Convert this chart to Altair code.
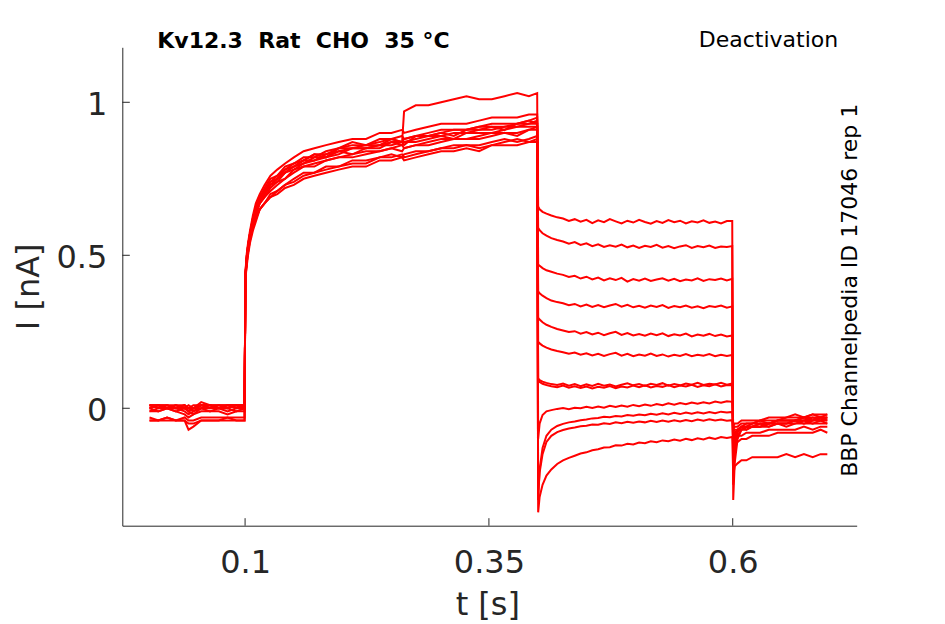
import altair as alt
import pandas as pd

# ---------------- data ----------------
T_BASE = [0.002, 0.011, 0.020, 0.029, 0.038, 0.042, 0.047, 0.055, 0.064, 0.073, 0.082, 0.091, 0.0995]
T_ACT = [0.1003, 0.1015, 0.103, 0.105, 0.108, 0.111, 0.115, 0.120, 0.126, 0.133, 0.141, 0.150,
         0.160, 0.171, 0.183, 0.196, 0.210, 0.224, 0.238, 0.250, 0.261, 0.263, 0.275, 0.288,
         0.301, 0.314, 0.327, 0.340, 0.353, 0.366, 0.379, 0.391, 0.3995]
T_DEACT = [0.4005, 0.402, 0.405, 0.409, 0.414, 0.420, 0.426, 0.432, 0.438, 0.444, 0.450, 0.456,
           0.462, 0.468, 0.474, 0.480, 0.486, 0.492, 0.498, 0.504, 0.510, 0.516, 0.522, 0.528,
           0.534, 0.540, 0.546, 0.552, 0.558, 0.564, 0.570, 0.576, 0.582, 0.588, 0.594, 0.5995]
T_TAIL = [0.6005, 0.602, 0.605, 0.609, 0.614, 0.620, 0.628, 0.637, 0.646, 0.655, 0.664,
          0.673, 0.682, 0.690, 0.697]

I_BASE = [
    [0.01, 0.00, 0.01, 0.01, 0.00, 0.00, 0.01, 0.01, 0.01, 0.00, 0.01, 0.01, 0.01],
    [0.00, 0.01, 0.00, 0.00, 0.01, -0.01, 0.00, 0.01, 0.00, 0.01, 0.00, 0.01, 0.00],
    [0.01, 0.01, 0.00, 0.01, 0.01, 0.00, -0.01, 0.01, 0.01, 0.01, 0.01, 0.00, 0.01],
    [-0.01, 0.00, 0.00, -0.01, 0.00, -0.01, -0.02, 0.00, 0.00, 0.00, -0.01, 0.00, 0.00],
    [0.01, 0.01, 0.01, 0.00, 0.01, 0.00, 0.00, 0.02, 0.01, 0.01, 0.01, 0.01, 0.01],
    [0.00, -0.01, 0.00, 0.00, -0.01, -0.02, -0.01, 0.00, -0.01, 0.00, 0.00, -0.01, 0.00],
    [0.01, 0.01, 0.00, 0.01, 0.00, 0.01, 0.00, 0.01, 0.01, 0.00, 0.01, 0.01, 0.01],
    [-0.01, -0.01, 0.00, -0.01, -0.02, -0.03, -0.02, -0.01, -0.01, -0.01, -0.02, -0.01, -0.01],
    [0.00, 0.01, 0.01, 0.00, 0.00, -0.01, 0.00, 0.00, 0.01, 0.00, 0.00, 0.01, 0.00],
    [-0.03, -0.04, -0.03, -0.04, -0.03, -0.04, -0.04, -0.03, -0.03, -0.03, -0.03, -0.03, -0.03],
    [-0.04, -0.04, -0.03, -0.04, -0.04, -0.07, -0.06, -0.04, -0.04, -0.04, -0.03, -0.04, -0.04],
    [-0.04, -0.04, -0.04, -0.04, -0.04, -0.05, -0.05, -0.04, -0.04, -0.04, -0.04, -0.04, -0.04],
]

I_ACT = [
    [0.43, 0.49, 0.53, 0.57, 0.62, 0.65, 0.69, 0.71, 0.74, 0.75, 0.78, 0.79, 0.81, 0.83, 0.82, 0.85, 0.85,
     0.86, 0.86, 0.88, 0.87, 0.86, 0.89, 0.89, 0.90, 0.89, 0.91, 0.91, 0.92, 0.91, 0.93, 0.93, 0.94],
    [0.42, 0.47, 0.51, 0.55, 0.59, 0.62, 0.65, 0.67, 0.70, 0.71, 0.73, 0.74, 0.76, 0.77, 0.78, 0.79, 0.80,
     0.80, 0.82, 0.82, 0.83, 0.82, 0.83, 0.84, 0.85, 0.85, 0.86, 0.85, 0.86, 0.87, 0.88, 0.87, 0.88],
    [0.44, 0.49, 0.53, 0.57, 0.62, 0.66, 0.69, 0.72, 0.75, 0.76, 0.79, 0.80, 0.82, 0.82, 0.84, 0.85, 0.87,
     0.86, 0.88, 0.88, 0.89, 0.88, 0.89, 0.90, 0.91, 0.91, 0.91, 0.92, 0.93, 0.93, 0.93, 0.94, 0.95],
    [0.43, 0.48, 0.52, 0.56, 0.60, 0.64, 0.67, 0.69, 0.72, 0.74, 0.75, 0.78, 0.79, 0.80, 0.81, 0.82, 0.83,
     0.84, 0.84, 0.85, 0.86, 0.85, 0.86, 0.87, 0.88, 0.88, 0.88, 0.89, 0.90, 0.90, 0.90, 0.91, 0.92],
    [0.43, 0.49, 0.53, 0.57, 0.61, 0.65, 0.68, 0.71, 0.73, 0.75, 0.77, 0.79, 0.81, 0.81, 0.83, 0.84, 0.85,
     0.85, 0.86, 0.87, 0.87, 0.97, 0.99, 0.99, 1.00, 1.01, 1.02, 1.01, 1.01, 1.02, 1.03, 1.02, 1.03],
    [0.42, 0.48, 0.52, 0.56, 0.61, 0.64, 0.67, 0.70, 0.73, 0.74, 0.77, 0.78, 0.80, 0.81, 0.82, 0.84, 0.83,
     0.85, 0.85, 0.87, 0.86, 0.87, 0.87, 0.88, 0.89, 0.88, 0.90, 0.90, 0.90, 0.91, 0.92, 0.92, 0.92],
    [0.42, 0.46, 0.50, 0.54, 0.58, 0.61, 0.65, 0.67, 0.69, 0.70, 0.72, 0.73, 0.75, 0.76, 0.77, 0.78, 0.79,
     0.79, 0.81, 0.81, 0.82, 0.81, 0.82, 0.83, 0.84, 0.84, 0.85, 0.84, 0.86, 0.86, 0.86, 0.87, 0.87],
    [0.44, 0.50, 0.54, 0.58, 0.63, 0.67, 0.70, 0.73, 0.76, 0.78, 0.80, 0.82, 0.84, 0.85, 0.86, 0.87, 0.88,
     0.88, 0.90, 0.90, 0.91, 0.90, 0.91, 0.92, 0.93, 0.93, 0.93, 0.94, 0.95, 0.95, 0.95, 0.96, 0.96],
    [0.43, 0.48, 0.52, 0.56, 0.60, 0.63, 0.67, 0.69, 0.71, 0.73, 0.75, 0.77, 0.79, 0.79, 0.81, 0.82, 0.82,
     0.83, 0.84, 0.85, 0.84, 0.85, 0.86, 0.86, 0.87, 0.88, 0.88, 0.88, 0.89, 0.90, 0.89, 0.91, 0.91],
    [0.43, 0.48, 0.53, 0.57, 0.62, 0.65, 0.69, 0.71, 0.74, 0.76, 0.78, 0.80, 0.81, 0.83, 0.83, 0.85, 0.86,
     0.86, 0.87, 0.88, 0.87, 0.88, 0.89, 0.89, 0.90, 0.91, 0.91, 0.92, 0.92, 0.92, 0.93, 0.94, 0.93],
    [0.42, 0.47, 0.51, 0.55, 0.59, 0.62, 0.65, 0.67, 0.69, 0.71, 0.73, 0.75, 0.77, 0.77, 0.79, 0.79, 0.81,
     0.81, 0.82, 0.83, 0.82, 0.83, 0.84, 0.84, 0.85, 0.86, 0.86, 0.86, 0.87, 0.88, 0.87, 0.88, 0.89],
    [0.43, 0.48, 0.52, 0.56, 0.61, 0.64, 0.68, 0.70, 0.73, 0.75, 0.77, 0.79, 0.80, 0.82, 0.82, 0.83, 0.85,
     0.85, 0.86, 0.86, 0.87, 0.87, 0.88, 0.89, 0.89, 0.90, 0.90, 0.91, 0.91, 0.92, 0.92, 0.93, 0.93],
]

I_DEACT = [
    [0.660, 0.650, 0.642, 0.636, 0.630, 0.624, 0.620, 0.612, 0.618, 0.610, 0.616, 0.605,
     0.614, 0.608, 0.618, 0.611, 0.604, 0.613, 0.607, 0.616, 0.609, 0.603, 0.612, 0.606,
     0.615, 0.608, 0.613, 0.604, 0.611, 0.607, 0.614, 0.606, 0.610, 0.604, 0.612, 0.612],
    [0.590, 0.582, 0.572, 0.564, 0.556, 0.550, 0.545, 0.538, 0.543, 0.534, 0.539, 0.530,
     0.536, 0.527, 0.533, 0.528, 0.535, 0.526, 0.532, 0.524, 0.531, 0.527, 0.534, 0.525,
     0.530, 0.523, 0.529, 0.533, 0.524, 0.530, 0.526, 0.532, 0.524, 0.529, 0.527, 0.530],
    [0.470, 0.466, 0.458, 0.451, 0.446, 0.440, 0.436, 0.429, 0.433, 0.424, 0.430, 0.421,
     0.427, 0.418, 0.425, 0.419, 0.426, 0.414, 0.422, 0.417, 0.424, 0.416, 0.421, 0.425,
     0.417, 0.423, 0.415, 0.421, 0.418, 0.425, 0.416, 0.422, 0.419, 0.424, 0.418, 0.423],
    [0.382, 0.376, 0.368, 0.360, 0.352, 0.347, 0.343, 0.337, 0.341, 0.333, 0.339, 0.331,
     0.337, 0.330, 0.336, 0.341, 0.332, 0.338, 0.330, 0.335, 0.329, 0.336, 0.331, 0.337,
     0.328, 0.334, 0.330, 0.336, 0.329, 0.333, 0.327, 0.334, 0.331, 0.336, 0.329, 0.333],
    [0.296, 0.290, 0.281, 0.273, 0.266, 0.259, 0.254, 0.249, 0.252, 0.244, 0.249, 0.241,
     0.247, 0.239, 0.245, 0.250, 0.240, 0.246, 0.238, 0.243, 0.237, 0.244, 0.239, 0.245,
     0.236, 0.242, 0.238, 0.244, 0.235, 0.241, 0.237, 0.243, 0.236, 0.241, 0.235, 0.238],
    [0.218, 0.212, 0.205, 0.198, 0.192, 0.187, 0.183, 0.178, 0.182, 0.175, 0.180, 0.173,
     0.178, 0.171, 0.177, 0.181, 0.172, 0.178, 0.170, 0.176, 0.172, 0.179, 0.171, 0.176,
     0.169, 0.175, 0.171, 0.177, 0.170, 0.175, 0.172, 0.177, 0.170, 0.175, 0.171, 0.174],
    [0.098, 0.092, 0.087, 0.083, 0.079, 0.076, 0.081, 0.074, 0.079, 0.072, 0.078, 0.073,
     0.080, 0.074, 0.078, 0.071, 0.077, 0.082, 0.075, 0.079, 0.073, 0.080, 0.076, 0.082,
     0.074, 0.079, 0.075, 0.081, 0.077, 0.083, 0.076, 0.080, 0.078, 0.083, 0.077, 0.081],
    [0.092, 0.086, 0.080, 0.076, 0.072, 0.069, 0.074, 0.067, 0.072, 0.066, 0.071, 0.065,
     0.070, 0.067, 0.073, 0.066, 0.071, 0.068, 0.074, 0.069, 0.075, 0.068, 0.073, 0.070,
     0.076, 0.069, 0.074, 0.071, 0.077, 0.070, 0.075, 0.072, 0.078, 0.071, 0.076, 0.075],
    [-0.100, -0.050, -0.022, -0.010, -0.006, -0.002, 0.001, -0.003, 0.002, 0.000, 0.005, 0.001,
     0.006, 0.002, 0.008, 0.004, 0.009, 0.005, 0.011, 0.007, 0.012, 0.008, 0.014, 0.010,
     0.016, 0.012, 0.017, 0.013, 0.019, 0.015, 0.020, 0.016, 0.022, 0.018, 0.023, 0.021],
    [-0.300, -0.200, -0.130, -0.090, -0.070, -0.058, -0.051, -0.046, -0.043, -0.039, -0.037, -0.033,
     -0.032, -0.028, -0.029, -0.025, -0.027, -0.022, -0.024, -0.020, -0.023, -0.018, -0.021, -0.016,
     -0.020, -0.015, -0.019, -0.014, -0.018, -0.013, -0.017, -0.012, -0.016, -0.011, -0.014, -0.012],
    [-0.280, -0.210, -0.150, -0.110, -0.090, -0.078, -0.071, -0.066, -0.063, -0.059, -0.057, -0.053,
     -0.054, -0.049, -0.051, -0.046, -0.049, -0.044, -0.047, -0.043, -0.046, -0.041, -0.045, -0.040,
     -0.044, -0.039, -0.043, -0.038, -0.042, -0.037, -0.041, -0.036, -0.040, -0.037, -0.041, -0.039],
    [-0.340, -0.290, -0.250, -0.220, -0.200, -0.182, -0.170, -0.162, -0.155, -0.148, -0.144, -0.137,
     -0.134, -0.128, -0.127, -0.121, -0.122, -0.116, -0.118, -0.112, -0.114, -0.108, -0.111, -0.105,
     -0.108, -0.102, -0.106, -0.100, -0.104, -0.098, -0.102, -0.096, -0.100, -0.094, -0.097, -0.094],
]

I_TAIL = [
    [-0.30, -0.18, -0.10, -0.07, -0.06, -0.06, -0.05, -0.05, -0.04, -0.04, -0.04, -0.03, -0.03, -0.03, -0.03],
    [-0.25, -0.15, -0.09, -0.07, -0.07, -0.06, -0.06, -0.05, -0.05, -0.05, -0.04, -0.04, -0.04, -0.03, -0.04],
    [-0.20, -0.12, -0.08, -0.06, -0.05, -0.05, -0.04, -0.04, -0.04, -0.03, -0.03, -0.03, -0.02, -0.03, -0.02],
    [-0.15, -0.10, -0.07, -0.06, -0.06, -0.05, -0.05, -0.05, -0.04, -0.04, -0.04, -0.04, -0.03, -0.04, -0.03],
    [-0.12, -0.09, -0.07, -0.07, -0.06, -0.06, -0.06, -0.05, -0.05, -0.05, -0.05, -0.04, -0.05, -0.04, -0.04],
    [-0.10, -0.08, -0.07, -0.06, -0.06, -0.06, -0.05, -0.06, -0.05, -0.05, -0.04, -0.05, -0.04, -0.04, -0.05],
    [-0.06, -0.05, -0.05, -0.04, -0.04, -0.04, -0.04, -0.03, -0.03, -0.03, -0.02, -0.03, -0.02, -0.02, -0.02],
    [-0.07, -0.06, -0.06, -0.05, -0.05, -0.05, -0.04, -0.05, -0.04, -0.04, -0.04, -0.03, -0.04, -0.03, -0.03],
    [-0.08, -0.07, -0.07, -0.06, -0.07, -0.06, -0.06, -0.06, -0.05, -0.06, -0.05, -0.05, -0.05, -0.05, -0.05],
    [-0.12, -0.10, -0.09, -0.09, -0.08, -0.08, -0.08, -0.07, -0.07, -0.07, -0.07, -0.06, -0.07, -0.06, -0.06],
    [-0.14, -0.12, -0.11, -0.10, -0.10, -0.09, -0.09, -0.09, -0.08, -0.08, -0.08, -0.08, -0.08, -0.07, -0.08],
    [-0.22, -0.19, -0.18, -0.17, -0.17, -0.16, -0.16, -0.16, -0.16, -0.15, -0.16, -0.15, -0.16, -0.15, -0.15],
]

X_TICKS = [0.1, 0.35, 0.6]
Y_TICKS = [0, 0.5, 1]
X_DOMAIN = [-0.0259, 0.7271]
Y_DOMAIN = [-0.3837, 1.1797]

# double spaces kept visible with no-break spaces
TITLE = "Kv12.3\u00a0 Rat\u00a0 CHO\u00a0 35 °C"
PROTOCOL = "Deactivation"
SOURCE = "BBP Channelpedia ID 17046 rep 1"
X_TITLE = "t [s]"
Y_TITLE = "I [nA]"

# ---------------- build table ----------------
rows = []
for k in range(12):
    for times, seg in ((T_BASE, I_BASE), (T_ACT, I_ACT), (T_DEACT, I_DEACT), (T_TAIL, I_TAIL)):
        assert len(times) == len(seg[k]), (k, len(times), len(seg[k]))
        for t, v in zip(times, seg[k]):
            rows.append({"trace": k + 1, "t": t, "i": v})
df = pd.DataFrame(rows)

W, H = 734.4, 478.4
FONT = "DejaVu Sans"
AX = "#262626"

xs = alt.Scale(domain=X_DOMAIN, nice=False, zero=False)
ys = alt.Scale(domain=Y_DOMAIN, nice=False, zero=False)

x_axis = alt.Axis(values=X_TICKS, format=".2~f", grid=False, ticks=False, tickSize=0,
                  domainColor=AX, domainWidth=1, labelFont=FONT, labelFontSize=32,
                  labelColor=AX, labelBaseline="alphabetic", labelPadding=47,
                  labelFlush=False, title=X_TITLE, titleFont=FONT, titleFontSize=32,
                  titleFontWeight="normal", titleColor=AX, titleX=365, titleY=89,
                  titleBaseline="alphabetic", titleAlign="center", titleAngle=0)
y_axis = alt.Axis(values=Y_TICKS, format=".2~f", grid=False, ticks=False, tickSize=0,
                  domainColor=AX, domainWidth=1, labelFont=FONT, labelFontSize=32,
                  labelColor=AX, labelBaseline="alphabetic", labelOffset=12,
                  labelPadding=15.5, labelFlush=False, title=Y_TITLE, titleFont=FONT,
                  titleFontSize=32, titleFontWeight="normal", titleColor=AX,
                  titleX=-84, titleY=239, titleAngle=270, titleBaseline="alphabetic",
                  titleAlign="center")

traces = alt.Chart(df).mark_line(color="#ff0000", strokeWidth=2.0, clip=True).encode(
    x=alt.X("t:Q", scale=xs, axis=x_axis),
    y=alt.Y("i:Q", scale=ys, axis=y_axis),
    detail="trace:N",
    order="t:Q",
)

xt = alt.Chart(pd.DataFrame({"t": X_TICKS})).mark_rule(color=AX, strokeWidth=1).encode(
    x=alt.X("t:Q", scale=xs, axis=x_axis), y=alt.value(H), y2=alt.value(H - 7.5))
yt = alt.Chart(pd.DataFrame({"i": Y_TICKS})).mark_rule(color=AX, strokeWidth=1).encode(
    y=alt.Y("i:Q", scale=ys, axis=y_axis), x=alt.value(0), x2=alt.value(7.5))

title_t = alt.Chart(pd.DataFrame({"s": [TITLE]})).mark_text(
    font=FONT, fontSize=22, fontWeight="bold", color="#000000", align="left",
    baseline="alphabetic").encode(text="s:N", x=alt.value(35), y=alt.value(0.4))
proto_t = alt.Chart(pd.DataFrame({"s": [PROTOCOL]})).mark_text(
    font=FONT, fontSize=22, color="#000000", align="left",
    baseline="alphabetic").encode(text="s:N", x=alt.value(576.5), y=alt.value(-0.6))
src_t = alt.Chart(pd.DataFrame({"s": [SOURCE]})).mark_text(
    font=FONT, fontSize=22, color="#000000", align="center", angle=270,
    baseline="alphabetic").encode(text="s:N", x=alt.value(734.5), y=alt.value(243))

chart = alt.layer(traces, xt, yt, title_t, proto_t, src_t).properties(
    width=W, height=H,
    autosize=alt.AutoSizeParams(type="none"),
    padding={"left": 114.3, "top": 39.3, "right": 80, "bottom": 98},
).configure_view(strokeWidth=0)

chart.save("out.html", embed_options={"renderer": "svg", "actions": False})
